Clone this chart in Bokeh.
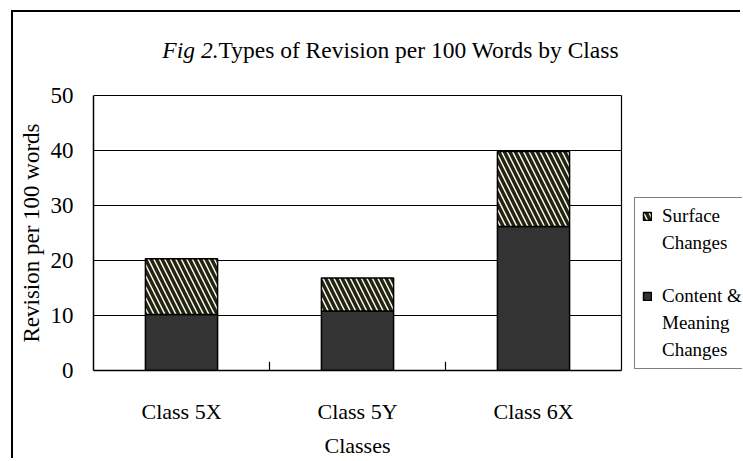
from bokeh.plotting import figure
from bokeh.models import (Range1d, FixedTicker, Legend, LegendItem, LinearAxis,
                          ColumnDataSource, Label)
from bokeh.embed import file_html
from bokeh.resources import INLINE

# ---- data ----
categories = ["Class 5X", "Class 5Y", "Class 6X"]
content_meaning = [10.2, 10.8, 26.2]
surface = [10.1, 6.0, 13.6]
y_ticks = [0, 10, 20, 30, 40, 50]
x_title = "Classes"
y_title = "Revision per 100 words"
title_italic = "Fig 2."
title_rest = "Types of Revision per 100 Words by Class"
legend_surface = ["Surface", "Changes"]
legend_content = ["Content &", "Meaning", "Changes"]

n = len(categories)
x_pos = [i + 0.5 for i in range(n)]
tops = [c + s for c, s in zip(content_meaning, surface)]
src = ColumnDataSource(dict(x=x_pos, content=content_meaning, top=tops,
                            zero=[0] * n))

FONT = "Liberation Serif"

# layout constants (page pixels)
CANVAS_X, CANVAS_Y = 13, 12     # after css margin + 2px border
FIG_W, FIG_H = 729, 448
PLOT_LEFT, PLOT_BOTTOM = 93, 370
PLOT_W, PLOT_H = 528, 275       # size of the plotted (bar) region
BORDER_L = PLOT_LEFT - CANVAS_X
BORDER_B = CANVAS_Y + FIG_H - PLOT_BOTTOM
FRAME_W = FIG_W - BORDER_L
FRAME_H = FIG_H - BORDER_B
y_max = y_ticks[-1]

p = figure(width=FIG_W, height=FIG_H, output_backend="svg", toolbar_location=None,
           x_range=Range1d(0, n * FRAME_W / PLOT_W),
           y_range=Range1d(0, y_max * FRAME_H / PLOT_H),
           min_border_left=BORDER_L, min_border_top=0,
           min_border_bottom=BORDER_B, min_border_right=0,
           styles={"margin-left": "11px", "margin-top": "10px",
                   "border-left": "2px solid black", "border-top": "2px solid black"})

p.title.visible = False
p.outline_line_color = None
p.background_fill_color = "white"
p.border_fill_color = "white"

# horizontal grid lines and right edge of the plotted region
p.segment(x0=[0] * len(y_ticks), x1=[n] * len(y_ticks), y0=y_ticks, y1=y_ticks,
          line_color="black", line_width=1.2)
p.segment(x0=[n], x1=[n], y0=[y_ticks[0]], y1=[y_max],
          line_color="black", line_width=1.2)

r_content = p.vbar(x="x", bottom="zero", top="content", width=0.41, source=src,
                   fill_color="#333333", line_color="black", line_width=1.5)
r_surface = p.vbar(x="x", bottom="content", top="top", width=0.41, source=src,
                   fill_color="white", line_color="black", line_width=1.5,
                   hatch_pattern="\\", hatch_color="#24240f", hatch_weight=3.5,
                   hatch_scale=11)
# invisible renderer used for text-only legend lines
r_blank = p.vbar(x=[], top=[], width=0.41, fill_alpha=0, line_alpha=0)

# small inside ticks between categories
sep = list(range(1, n))
p.segment(x0=sep, y0=[0] * len(sep), x1=sep, y1=[1.6] * len(sep),
          line_color="black", line_width=1.2)

p.xgrid.grid_line_color = None
p.ygrid.grid_line_color = None

# x axis (category labels)
xa = p.xaxis[0]
xa.bounds = (0, n)
xa.ticker = FixedTicker(ticks=x_pos)
xa.major_label_overrides = {x: c for x, c in zip(x_pos, categories)}
xa.major_tick_line_color = None
xa.minor_tick_line_color = None
xa.major_tick_out = 0
xa.axis_line_color = "black"
xa.axis_line_width = 1.5
xa.major_label_standoff = 28
xa.major_label_text_font = FONT
xa.major_label_text_font_size = "22px"
xa.major_label_text_color = "black"

# x title, centred under the plotted region
xt = LinearAxis(ticker=FixedTicker(ticks=[n / 2]),
                major_label_overrides={n / 2: x_title},
                axis_line_color=None, major_tick_line_color=None,
                minor_tick_line_color=None, major_tick_out=0, major_tick_in=0,
                major_label_standoff=6, major_label_text_font=FONT,
                major_label_text_font_size="22px", major_label_text_color="black")
p.add_layout(xt, "below")

# y axis
ya = p.yaxis[0]
ya.bounds = (0, y_max)
ya.ticker = FixedTicker(ticks=y_ticks)
ya.major_tick_line_color = None
ya.minor_tick_line_color = None
ya.major_tick_out = 0
ya.axis_line_color = "black"
ya.axis_line_width = 1.5
ya.major_label_standoff = 20
ya.major_label_text_font = FONT
ya.major_label_text_font_size = "23px"
ya.major_label_text_color = "black"

# y title, centred beside the plotted region
yt = LinearAxis(ticker=FixedTicker(ticks=[y_max / 2]),
                major_label_overrides={y_max / 2: y_title},
                major_label_orientation="vertical",
                axis_line_color=None, major_tick_line_color=None,
                minor_tick_line_color=None, major_tick_out=0, major_tick_in=0,
                major_label_standoff=4, major_label_text_font=FONT,
                major_label_text_font_size="23px", major_label_text_color="black")
p.add_layout(yt, "left")

# chart title (italic figure number + plain text)
t_x = (218 - PLOT_LEFT) / PLOT_W * n
t_y = (PLOT_BOTTOM - 49) / PLOT_H * y_max
p.add_layout(Label(x=t_x, y=t_y, text=title_italic, text_font=FONT,
                   text_font_style="italic", text_font_size="23.5px",
                   text_align="right", text_baseline="alphabetic",
                   text_color="black"))
p.add_layout(Label(x=t_x, y=t_y, text=title_rest, text_font=FONT,
                   text_font_size="23.5px", text_align="left",
                   text_baseline="alphabetic", text_color="black"))

# legend (inside the frame, right of the plotted region), one line per item
items = [LegendItem(label=legend_surface[0], renderers=[r_surface])]
items += [LegendItem(label=t, renderers=[r_blank]) for t in legend_surface[1:]]
items += [LegendItem(label=" ", renderers=[r_blank])]
items += [LegendItem(label=legend_content[0], renderers=[r_content])]
items += [LegendItem(label=t, renderers=[r_blank]) for t in legend_content[1:]]
legend = Legend(items=items, location=(PLOT_W + 13, 1), orientation="vertical")
legend.margin = 0
legend.label_text_font = FONT
legend.label_text_font_size = "19px"
legend.label_text_color = "black"
legend.label_height = 21
legend.glyph_width = 10
legend.glyph_height = 10
legend.label_standoff = 10
legend.padding = 7
legend.spacing = 5
legend.border_line_color = "black"
legend.border_line_width = 1.5
legend.background_fill_color = "white"
legend.background_fill_alpha = 1
p.add_layout(legend, "center")

open("out.html", "w").write(file_html(p, INLINE))
